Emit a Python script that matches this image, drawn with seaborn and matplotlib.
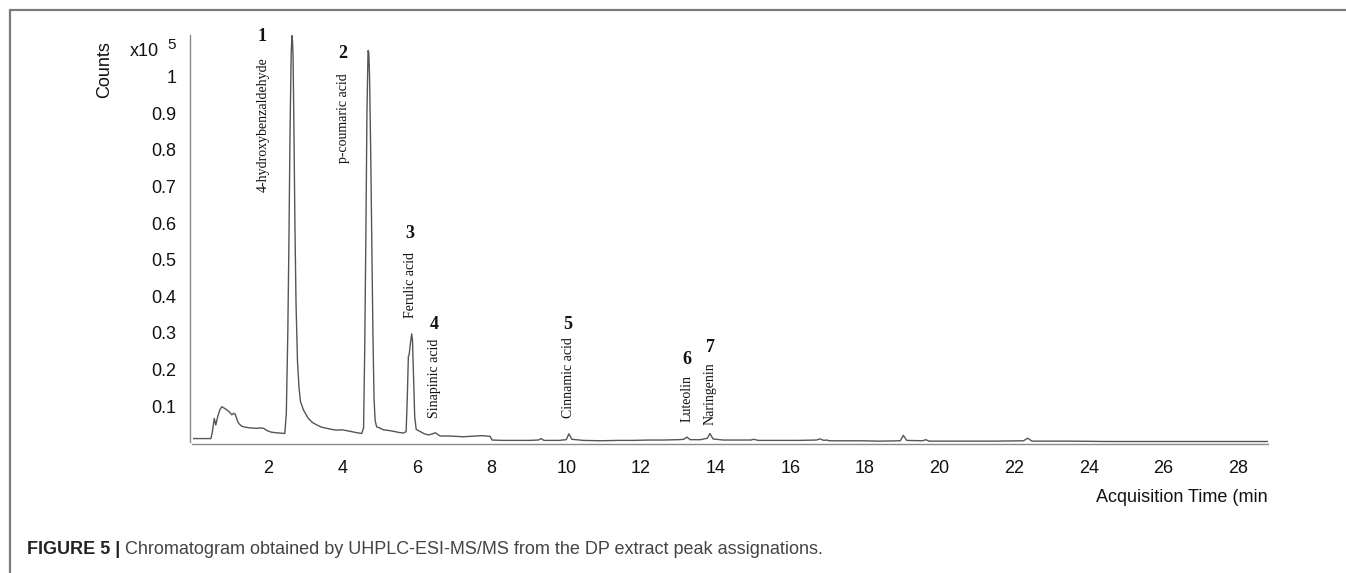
import matplotlib
matplotlib.use("Agg")
import matplotlib.pyplot as plt
from matplotlib.lines import Line2D
import numpy as np
import pandas as pd
import seaborn as sns

# ---------------- data ----------------
time_min = [0.00, 0.30, 0.48, 0.52, 0.57, 0.61, 0.66, 0.72, 0.77, 0.84, 0.90, 0.97, 1.04, 1.09, 1.13,
            1.18, 1.22, 1.30, 1.40, 1.55, 1.70, 1.80, 1.89, 1.98, 2.08, 2.20, 2.35, 2.46,
            2.50, 2.54, 2.57, 2.60, 2.63, 2.65, 2.665, 2.68, 2.70, 2.73, 2.76, 2.80, 2.84, 2.88,
            2.96, 3.09, 3.20, 3.32, 3.45, 3.58, 3.72, 3.85, 3.99, 4.10, 4.25, 4.39, 4.52,
            4.57, 4.60, 4.63, 4.66, 4.69, 4.71, 4.73, 4.76, 4.79, 4.82, 4.85, 4.88, 4.92,
            5.00, 5.10, 5.25, 5.37, 5.50, 5.64, 5.71, 5.74, 5.77, 5.79, 5.83, 5.86, 5.88,
            5.91, 5.94, 5.98, 6.09, 6.20, 6.31, 6.42, 6.49, 6.56, 6.62, 6.85, 7.07, 7.25,
            7.43, 7.60, 7.74, 7.85, 7.96, 8.01, 8.30, 8.68, 9.00, 9.25, 9.33, 9.40, 9.80,
            10.00, 10.07, 10.15, 10.46, 10.91, 11.40, 11.80, 12.20, 12.60, 13.00, 13.15,
            13.23, 13.32, 13.60, 13.78, 13.85, 13.93, 14.20, 14.60, 14.95, 15.02, 15.15,
            15.60, 16.20, 16.70, 16.80, 16.90, 16.97, 17.05, 17.50, 17.88, 18.40, 18.95,
            19.03, 19.12, 19.55, 19.63, 19.72, 20.50, 21.50, 22.25, 22.36, 22.48, 23.50,
            24.50, 26.00, 27.50, 28.80]
counts_e5 = [0.011, 0.011, 0.011, 0.030, 0.066, 0.048, 0.070, 0.090, 0.098, 0.094, 0.090, 0.084, 0.076, 0.080, 0.078,
             0.062, 0.053, 0.045, 0.042, 0.040, 0.039, 0.040, 0.039, 0.033, 0.029, 0.027, 0.026, 0.025,
             0.080, 0.300, 0.550, 0.850, 1.060, 1.112, 1.100, 1.060, 0.900, 0.600, 0.380, 0.220, 0.150, 0.112,
             0.089, 0.066, 0.055, 0.048, 0.042, 0.039, 0.036, 0.034, 0.035, 0.033, 0.030, 0.027, 0.025,
             0.040, 0.250, 0.550, 0.900, 1.071, 1.065, 1.000, 0.800, 0.550, 0.300, 0.120, 0.060, 0.043,
             0.040, 0.035, 0.033, 0.031, 0.028, 0.026, 0.030, 0.120, 0.235, 0.240, 0.275, 0.297, 0.280,
             0.170, 0.070, 0.036, 0.030, 0.024, 0.021, 0.024, 0.027, 0.022, 0.018, 0.018, 0.017, 0.016,
             0.017, 0.018, 0.019, 0.018, 0.017, 0.007, 0.006, 0.006, 0.006, 0.007, 0.011, 0.006, 0.006,
             0.008, 0.024, 0.009, 0.006, 0.005, 0.006, 0.006, 0.007, 0.007, 0.008, 0.009,
             0.015, 0.008, 0.008, 0.012, 0.025, 0.010, 0.007, 0.007, 0.007, 0.009, 0.006,
             0.006, 0.006, 0.007, 0.010, 0.006, 0.007, 0.005, 0.005, 0.005, 0.004, 0.005,
             0.020, 0.006, 0.005, 0.008, 0.004, 0.004, 0.004, 0.005, 0.012, 0.004, 0.004,
             0.003, 0.003, 0.003, 0.003]

peak_numbers = ["1", "2", "3", "4", "5", "6", "7"]
peak_names = ["4-hydroxybenzaldehyde", "p-coumaric acid", "Ferulic acid", "Sinapinic acid",
              "Cinnamic acid", "Luteolin", "Naringenin"]
number_time = [1.85, 4.02, 5.82, 6.46, 10.05, 13.22, 13.86]
number_level = [1.110, 1.064, 0.572, 0.324, 0.324, 0.226, 0.261]
name_time = [1.88, 4.02, 5.82, 6.47, 10.05, 13.24, 13.86]
name_top = [1.053, 1.010, 0.520, 0.283, 0.288, 0.185, 0.220]

y_ticks = [0.1, 0.2, 0.3, 0.4, 0.5, 0.6, 0.7, 0.8, 0.9, 1.0]
y_tick_labels = ["0.1", "0.2", "0.3", "0.4", "0.5", "0.6", "0.7", "0.8", "0.9", "1"]
x_ticks = [2, 4, 6, 8, 10, 12, 14, 16, 18, 20, 22, 24, 26, 28]

caption_bold = "FIGURE 5 |"
caption_text = " Chromatogram obtained by UHPLC-ESI-MS/MS from the DP extract peak assignations."

# ---------------- figure ----------------
sns.set_style("white")
plt.rcParams["font.family"] = ["Liberation Sans", "DejaVu Sans"]

W, H = 1346, 573
fig = plt.figure(figsize=(W / 100, H / 100), dpi=100)


def fx(px):
    return px / W


def fy(py):
    return 1 - py / H


y0_px, ytop_px = 442.6, 35.0
x0_px, xend_px = 193.0, 1268.0
ax = fig.add_axes([fx(x0_px), fy(y0_px), (xend_px - x0_px) / W, (y0_px - ytop_px) / H])

df = pd.DataFrame({"time": time_min, "counts": counts_e5})
sns.lineplot(data=df, x="time", y="counts", ax=ax, color="#555555", linewidth=1.0,
             estimator=None, sort=False)

ax.set_xlim(0, 28.8)
ax.set_ylim(0, 1.1137)
ax.set_xlabel("")
ax.set_ylabel("")

for side in ("top", "right"):
    ax.spines[side].set_visible(False)
axis_grey = "#8a8a8a"
ax.spines["left"].set_color(axis_grey)
ax.spines["bottom"].set_color(axis_grey)
ax.spines["left"].set_linewidth(1.0)
ax.spines["bottom"].set_linewidth(1.0)
ax.spines["left"].set_position(("outward", 2.5))
ax.spines["bottom"].set_position(("outward", 1.2))
ax.spines["left"].set_bounds(0.003, 1.1137)
ax.spines["bottom"].set_bounds(-0.03, 28.8)

ax.set_yticks(y_ticks)
ax.set_yticklabels(y_tick_labels)
ax.set_xticks(x_ticks)
ax.set_xticklabels([str(v) for v in x_ticks])
ax.tick_params(axis="both", colors=axis_grey, labelcolor="#111111", labelsize=13,
               length=5.5, width=1.0)
ax.tick_params(axis="y", pad=4)
ax.tick_params(axis="x", pad=6)
ax.grid(False)

# peak annotations
for num, name, nt, nl, mt, mtop in zip(peak_numbers, peak_names, number_time, number_level,
                                        name_time, name_top):
    ax.text(nt, nl, num, ha="center", va="center", fontsize=13, fontweight="bold",
            family=["Liberation Serif", "DejaVu Serif"], color="#111111", clip_on=False)
    ax.text(mt, mtop, name, ha="center", va="top", rotation=90, fontsize=10,
            family=["Liberation Serif", "DejaVu Serif"], color="#111111", clip_on=False)

# axis titles
fig.text(fx(105), fy(70), "Counts", rotation=90, ha="center", va="center", fontsize=13,
         color="#111111")
fig.text(fx(130), fy(52), "x10", ha="left", va="center", fontsize=13, color="#111111")
fig.text(fx(167), fy(45), "5", ha="left", va="center", fontsize=11, color="#111111")
fig.text(fx(1268), fy(498), "Acquisition Time (min", ha="right", va="center", fontsize=13,
         color="#111111")

# figure frame (left and top rules)
frame_grey = "#7a7a7a"
fig.add_artist(Line2D([fx(10), fx(10)], [0, fy(10)], color=frame_grey, linewidth=1.6))
fig.add_artist(Line2D([fx(10), 1], [fy(10), fy(10)], color=frame_grey, linewidth=1.6))

# caption
cb = fig.text(fx(27), fy(549), caption_bold, ha="left", va="center", fontsize=13,
              fontweight="bold", color="#222222")
fig.canvas.draw()
r = fig.canvas.get_renderer()
bb = cb.get_window_extent(renderer=r)
fig.text(bb.x1 / W, fy(549), caption_text, ha="left", va="center", fontsize=13,
         color="#444444")

fig.savefig("out.png", dpi=100)
